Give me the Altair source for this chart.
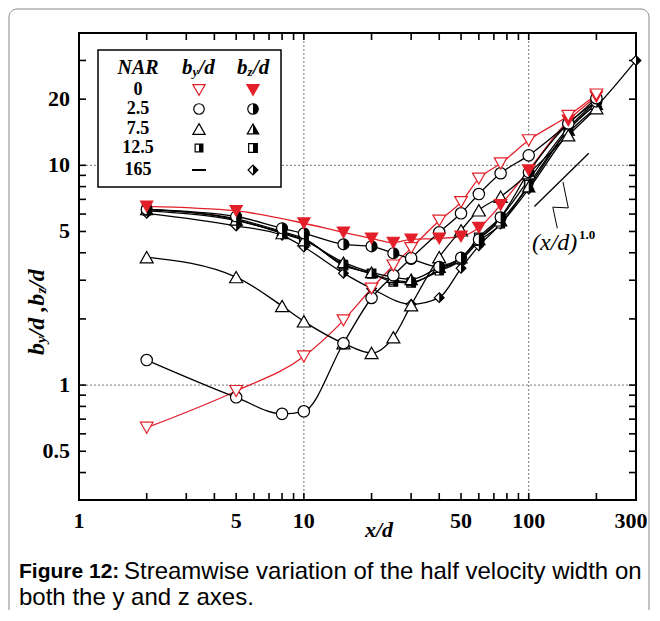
import altair as alt
import pandas as pd

# ---------------- data ----------------
x_by0 = [2, 5, 10, 15, 20, 25, 30, 40, 50, 60, 75, 100, 150, 200]
y_by0 = [0.64, 0.94, 1.35, 1.97, 2.75, 3.5, 4.2, 5.6, 6.8, 8.7, 10.2, 13.0, 16.8, 21.0]
x_bz0 = [2, 5, 10, 15, 20, 25, 30, 40, 50, 60, 75, 100, 150, 200]
y_bz0 = [6.5, 6.2, 5.45, 4.95, 4.65, 4.45, 4.6, 4.65, 4.75, 5.2, 6.6, 9.5, 16.0, 20.5]

x_std = [2, 5, 8, 10, 15, 20, 25, 30, 40, 50, 60, 75, 100, 150, 200]
y_by25 = [1.3, 0.88, 0.74, 0.76, 1.55, 2.49, 3.16, 3.78, 4.96, 6.05, 7.4, 9.2, 11.1, 15.5, 20.2]
y_bz25 = [6.3, 5.85, 5.17, 4.9, 4.37, 4.28, 3.98, 3.75, 3.45, 3.8, 4.6, 5.8, 9.3, 15.5, 19.5]
y_by75 = [3.82, 3.1, 2.29, 1.95, 1.55, 1.40, 1.65, 2.31, 3.82, 5.06, 6.24, 7.2, 9.2, 13.7, 18.2]
y_bz75 = [6.3, 5.65, 4.9, 4.55, 3.62, 3.26, 3.1, 3.03, 3.44, 3.8, 4.6, 5.6, 8.0, 14.5, 19.0]
y_by125 = [6.2, 5.6, 4.95, 4.6, 3.55, 3.2, 3.0, 2.95, 3.3, 3.7, 4.5, 5.4, 8.2, 14.5, 19.0]
y_bz125 = [6.3, 5.7, 5.0, 4.65, 3.5, 3.22, 2.95, 2.92, 3.35, 3.75, 4.7, 5.8, 8.6, 14.8, 19.5]
x_bz165 = [2, 5, 8, 10, 15, 20, 30, 40, 50, 60, 75, 100, 150, 200, 300]
y_bz165 = [6.05, 5.3, 4.8, 4.25, 3.23, 2.75, 2.33, 2.5, 3.4, 4.3, 5.4, 7.8, 14.0, 18.5, 30.0]

# slope-1 reference line and its zig-zag leader
slope_x = [106, 185]
slope_y = [6.5, 11.35]
leader_x = [142, 150, 128, 134]
leader_y = [8.4, 6.4, 6.45, 5.17]

# axes
x_labels = [1, 5, 10, 50, 100]
x_label_last = [300]
y_labels = [0.5, 1, 5, 10, 20]
x_minor = [2, 3, 4, 5, 6, 7, 8, 9, 10, 20, 30, 40, 50, 60, 70, 80, 90, 100, 200]
y_minor = [0.4, 0.5, 0.6, 0.7, 0.8, 0.9, 1, 2, 3, 4, 5, 6, 7, 8, 9, 10, 20, 30]
x_grid = [10, 100]
y_grid = [1, 10]

legend_nar = ["0", "2.5", "7.5", "12.5", "165"]
caption_bold = "Figure 12:"
caption_1 = "Streamwise variation of the half velocity width on"
caption_2 = "both the y and z axes."

# ---------------- layout / style ----------------
W, H = 557, 467
RED = "#e3202a"
SERIF = "Liberation Serif"
SANS = "Liberation Sans"

xscale = alt.Scale(type="log", domain=[1, 300], nice=False)
yscale = alt.Scale(type="log", domain=[0.3, 40], nice=False)

one = pd.DataFrame({"a": [0]})

CIRCLE = "circle"
HALF_CIRCLE = "M0,-1A1,1,0,0,1,0,1Z"
TRI_UP = "M0,-0.87L1,0.87L-1,0.87Z"
HALF_TRI_UP = "M0,-0.87L1,0.87L0,0.87Z"
TRI_DOWN = "M-1,-0.87L1,-0.87L0,0.87Z"
SQUARE = "M-1,-1L1,-1L1,1L-1,1Z"
HALF_SQUARE = "M0,-1L1,-1L1,1L0,1Z"
DIAMOND = "M0,-1L1,0L0,1L-1,0Z"
HALF_DIAMOND = "M0,-1L1,0L0,1Z"


def df(xs, ys):
    return pd.DataFrame({"x": xs, "y": ys})


def enc(chart):
    return chart.encode(
        x=alt.X("x:Q", scale=xscale, axis=None),
        y=alt.Y("y:Q", scale=yscale, axis=None),
    )


def pts(data, shape, size, stroke, fill, half=None, halffill="black"):
    out = []
    out.append(enc(alt.Chart(data).mark_point(
        shape=shape, size=size, filled=True, fill=fill, stroke=stroke,
        strokeWidth=1.2, opacity=1)))
    if half:
        out.append(enc(alt.Chart(data).mark_point(
            shape=half, size=size, filled=True, fill=halffill, strokeWidth=0,
            opacity=1)))
    return out


def lpts(px, py, shape, size, stroke, fill, half=None, halffill="black"):
    out = [alt.Chart(one).mark_point(
        shape=shape, size=size, filled=True, fill=fill, stroke=stroke,
        strokeWidth=1.2, opacity=1).encode(x=alt.value(px), y=alt.value(py))]
    if half:
        out.append(alt.Chart(one).mark_point(
            shape=half, size=size, filled=True, fill=halffill, strokeWidth=0,
            opacity=1).encode(x=alt.value(px), y=alt.value(py)))
    return out


def txt(s, x, y, size, weight="bold", style="normal", font=SERIF,
        align="left", baseline="middle", angle=0):
    kw = dict(text=s, fontSize=size, fontWeight=weight, fontStyle=style,
              font=font, align=align, baseline=baseline, color="black")
    if angle:
        kw["angle"] = angle
    return alt.Chart(one).mark_text(**kw).encode(x=alt.value(x), y=alt.value(y))


layers = []

# grid lines
layers.append(alt.Chart(pd.DataFrame({"x": x_grid})).mark_rule(
    color="#777", strokeDash=[2, 2], strokeWidth=1).encode(
    x=alt.X("x:Q", scale=xscale, axis=None)))
layers.append(alt.Chart(pd.DataFrame({"y": y_grid})).mark_rule(
    color="#777", strokeDash=[2, 2], strokeWidth=1).encode(
    y=alt.Y("y:Q", scale=yscale, axis=None)))

# inward ticks
xt = pd.DataFrame({"x": x_minor})
yt = pd.DataFrame({"y": y_minor})
TK = 7
layers.append(alt.Chart(xt).mark_rule(color="black", strokeWidth=1.6).encode(
    x=alt.X("x:Q", scale=xscale, axis=None), y=alt.value(0), y2=alt.value(TK)))
layers.append(alt.Chart(xt).mark_rule(color="black", strokeWidth=1.6).encode(
    x=alt.X("x:Q", scale=xscale, axis=None), y=alt.value(H - TK), y2=alt.value(H)))
layers.append(alt.Chart(yt).mark_rule(color="black", strokeWidth=1.6).encode(
    y=alt.Y("y:Q", scale=yscale, axis=None), x=alt.value(0), x2=alt.value(TK)))
layers.append(alt.Chart(yt).mark_rule(color="black", strokeWidth=1.6).encode(
    y=alt.Y("y:Q", scale=yscale, axis=None), x=alt.value(W - TK), x2=alt.value(W)))

# tick labels
xl = pd.DataFrame({"x": x_labels, "t": [f"{v:g}" for v in x_labels]})
xl2 = pd.DataFrame({"x": x_label_last, "t": [f"{v:g}" for v in x_label_last]})
yl = pd.DataFrame({"y": y_labels, "t": [f"{v:g}" for v in y_labels]})
layers.append(alt.Chart(xl).mark_text(font=SERIF, fontWeight="bold", fontSize=22,
                                      baseline="middle", align="center",
                                      color="black").encode(
    x=alt.X("x:Q", scale=xscale, axis=None), y=alt.value(H + 21), text="t:N"))
layers.append(alt.Chart(xl2).mark_text(font=SERIF, fontWeight="bold", fontSize=22,
                                       baseline="middle", align="center", dx=-5,
                                       color="black").encode(
    x=alt.X("x:Q", scale=xscale, axis=None), y=alt.value(H + 21), text="t:N"))
layers.append(alt.Chart(yl).mark_text(font=SERIF, fontWeight="bold", fontSize=22,
                                      baseline="middle", align="right",
                                      color="black").encode(
    y=alt.Y("y:Q", scale=yscale, axis=None), x=alt.value(-9), text="t:N"))

# lines
series = [
    (df(x_by0, y_by0), RED),
    (df(x_bz0, y_bz0), RED),
    (df(x_std, y_by25), "black"),
    (df(x_std, y_bz25), "black"),
    (df(x_std, y_by75), "black"),
    (df(x_std, y_bz75), "black"),
    (df(x_std, y_by125), "black"),
    (df(x_std, y_bz125), "black"),
    (df(x_bz165, y_bz165), "black"),
]
for d, c in series:
    layers.append(enc(alt.Chart(d).mark_line(color=c, strokeWidth=1.3,
                                             interpolate="monotone")))

# reference slope and leader
ref = pd.DataFrame({"x": slope_x, "y": slope_y, "i": [0, 1]})
lead = pd.DataFrame({"x": leader_x, "y": leader_y, "i": list(range(len(leader_x)))})
layers.append(enc(alt.Chart(ref).mark_line(color="black", strokeWidth=1.3)).encode(order="i:O"))
layers.append(enc(alt.Chart(lead).mark_line(color="black", strokeWidth=1)).encode(order="i:O"))

# markers
layers += pts(df(x_bz165, y_bz165), DIAMOND, 95, "black", "white", HALF_DIAMOND)
layers += pts(df(x_std, y_bz125), SQUARE, 75, "black", "white", HALF_SQUARE)
layers += pts(df(x_std, y_by125), SQUARE, 60, "black", "white", HALF_SQUARE)
layers += pts(df(x_std, y_bz75), TRI_UP, 150, "black", "white", HALF_TRI_UP)
layers += pts(df(x_std, y_by75), TRI_UP, 170, "black", "white")
layers += pts(df(x_std, y_bz25), CIRCLE, 120, "black", "white", HALF_CIRCLE)
layers += pts(df(x_std, y_by25), CIRCLE, 130, "black", "white")
layers += pts(df(x_bz0, y_bz0), TRI_DOWN, 150, RED, RED)
layers += pts(df(x_by0, y_by0), TRI_DOWN, 160, RED, "white")

# legend box
layers.append(alt.Chart(one).mark_rect(fill="white", stroke="black", strokeWidth=1.5).encode(
    x=alt.value(19), x2=alt.value(202), y=alt.value(17), y2=alt.value(154)))
layers.append(txt("NAR", 59, 35, 20, style="italic", align="center"))
layers.append(txt("b", 103, 35, 21, style="italic"))
layers.append(txt("y", 113.5, 39, 13, style="italic"))
layers.append(txt("/d", 119.5, 35, 21, style="italic"))
layers.append(txt("b", 158, 35, 21, style="italic"))
layers.append(txt("z", 168.5, 39, 13, style="italic"))
layers.append(txt("/d", 174, 35, 21, style="italic"))
rows_y = [57, 76, 96, 115, 137]
for s, ry in zip(legend_nar, rows_y):
    layers.append(txt(s, 59, ry, 18, align="center"))
BX, ZX = 120, 174
layers += lpts(BX, rows_y[0], TRI_DOWN, 150, RED, "white")
layers += lpts(ZX, rows_y[0], TRI_DOWN, 150, RED, RED)
layers += lpts(BX, rows_y[1], CIRCLE, 110, "black", "white")
layers += lpts(ZX, rows_y[1], CIRCLE, 110, "black", "white", HALF_CIRCLE)
layers += lpts(BX, rows_y[2], TRI_UP, 150, "black", "white")
layers += lpts(ZX, rows_y[2], TRI_UP, 130, "black", "white", HALF_TRI_UP)
layers += lpts(BX, rows_y[3], SQUARE, 60, "black", "white", HALF_SQUARE)
layers += lpts(ZX, rows_y[3], SQUARE, 75, "black", "white", HALF_SQUARE)
layers.append(alt.Chart(one).mark_rule(color="black", strokeWidth=2).encode(
    x=alt.value(BX - 7), x2=alt.value(BX + 7), y=alt.value(rows_y[4])))
layers += lpts(ZX, rows_y[4], DIAMOND, 95, "black", "white", HALF_DIAMOND)

# slope annotation text
layers.append(txt("(x/d)", 453, 210, 24, weight="normal", style="italic"))
layers.append(txt("1.0", 500, 202, 13, weight="bold"))

# axis titles
layers.append(txt("x/d", 300, 497, 22, style="italic", align="center"))
s0 = 322  # y-title start (bottom), rotated text reading upward
layers.append(txt("b", -42, s0, 24, style="italic", angle=270))
layers.append(txt("y", -38, s0 - 12, 15, style="italic", angle=270))
layers.append(txt("/d ,b", -42, s0 - 18.7, 24, style="italic", angle=270))
layers.append(txt("z", -38, s0 - 61.4, 15, style="italic", angle=270))
layers.append(txt("/d", -42, s0 - 67.2, 24, style="italic", angle=270))

# caption
layers.append(txt(caption_bold, -60, 539, 21, font=SANS))
layers.append(txt(caption_1, 45, 539, 24, weight="normal", font=SANS))
layers.append(txt(caption_2, -60, 565, 24, weight="normal", font=SANS))

# outer figure frame
layers.append(alt.Chart(one).mark_rect(fill=None, stroke="#888", strokeWidth=1,
                                       cornerRadius=8).encode(
    x=alt.value(-70), x2=alt.value(570), y=alt.value(-24), y2=alt.value(620)))

chart = alt.layer(*layers).properties(
    width=W, height=H,
    padding={"left": 71, "top": 25, "right": 14, "bottom": 110},
    autosize=alt.AutoSizeParams(type="none"),
).configure_view(stroke="black", strokeWidth=2)

chart.save("out.html", embed_options={"renderer": "svg", "actions": False})
